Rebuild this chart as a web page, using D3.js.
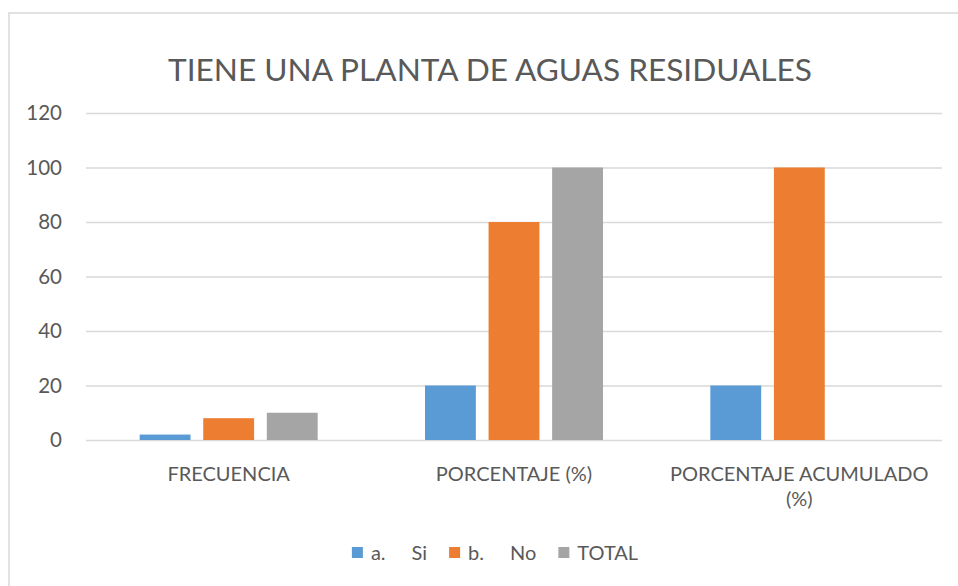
<!DOCTYPE html>
<html><head><meta charset="utf-8">
<script src="https://cdn.jsdelivr.net/npm/d3@7/dist/d3.min.js"></script>
<style>
html,body{margin:0;padding:0;background:#fff;}
svg{display:block;font-family:Lato,"Open Sans",sans-serif;}
</style></head>
<body>
<script>
const title = "TIENE UNA PLANTA DE AGUAS RESIDUALES";
const categories = ["FRECUENCIA", "PORCENTAJE (%)", "PORCENTAJE ACUMULADO (%)"];
const seriesNames = ["a.\tSi", "b.\tNo", "TOTAL"];
const seriesColors = ["#5B9BD5", "#ED7D31", "#A5A5A5"];
const valuesSi = [2, 20, 20];
const valuesNo = [8, 80, 100];
const valuesTotal = [10, 100, null];
const yTicks = [0, 20, 40, 60, 80, 100, 120];

const seriesValues = [valuesSi, valuesNo, valuesTotal];
const W = 958, H = 586;
const textColor = "#595959", gridColor = "#D9D9D9";
const plot = {left: 86, right: 942, top: 113, bottom: 440};

const svg = d3.select("body").append("svg").attr("width", W).attr("height", H);

svg.append("rect").attr("x", 9).attr("y", 13).attr("width", 1000).attr("height", 1000)
  .attr("fill", "#fff").attr("stroke", gridColor).attr("stroke-width", 1.5);

svg.append("text").attr("x", 490).attr("y", 81).attr("text-anchor", "middle")
  .attr("font-size", 31.6).attr("fill", textColor).text(title);

const y = d3.scaleLinear().domain([0, 120]).range([plot.bottom, plot.top]);
const x0 = d3.scaleBand().domain(categories).range([plot.left, plot.right]).padding(0);
const groupW = 178;
const x1 = d3.scaleBand().domain(seriesNames).range([0, groupW]).paddingInner(0.2).paddingOuter(0);

const yAxis = svg.append("g").attr("transform", `translate(${plot.left},0)`)
  .call(d3.axisLeft(y).tickValues(yTicks).tickSize(-(plot.right - plot.left)).tickPadding(24).tickFormat(d3.format("d")));
yAxis.select(".domain").remove();
yAxis.selectAll(".tick line").attr("stroke", gridColor).attr("stroke-width", 1.5);
yAxis.selectAll(".tick text").attr("fill", textColor).attr("font-size", 20.5)
  .attr("font-family", "Lato,'Open Sans',sans-serif");

const groups = svg.append("g").selectAll("g").data(categories).join("g")
  .attr("transform", d => `translate(${x0(d) + (x0.bandwidth() - groupW) / 2},0)`);
groups.selectAll("rect")
  .data((c, ci) => seriesNames.map((s, si) => ({s, si, v: seriesValues[si][ci]})).filter(d => d.v != null))
  .join("rect")
  .attr("x", d => x1(d.s)).attr("width", x1.bandwidth())
  .attr("y", d => y(d.v)).attr("height", d => y(0) - y(d.v))
  .attr("fill", d => seriesColors[d.si]);

// category labels with wrapping
const maxLabelW = x0.bandwidth() - 10;
categories.forEach(c => {
  const t = svg.append("text").attr("x", x0(c) + x0.bandwidth() / 2).attr("y", 481)
    .attr("text-anchor", "middle").attr("font-size", 20).attr("fill", textColor);
  const words = c.split(" ");
  let line = [];
  let ts = t.append("tspan").attr("x", x0(c) + x0.bandwidth() / 2).attr("dy", 0);
  words.forEach(w => {
    line.push(w);
    ts.text(line.join(" "));
    if (ts.node().getComputedTextLength() > maxLabelW && line.length > 1) {
      line.pop(); ts.text(line.join(" "));
      line = [w];
      ts = t.append("tspan").attr("x", x0(c) + x0.bandwidth() / 2).attr("dy", 25).text(w);
    }
  });
});

// legend
const legend = svg.append("g");
const items = [];
seriesNames.forEach((s, i) => {
  const g = legend.append("g");
  g.append("rect").attr("x", 0).attr("y", -6).attr("width", 11).attr("height", 11).attr("fill", seriesColors[i]);
  const parts = s.split("\t");
  const t = g.append("text").attr("x", 19).attr("y", 7).attr("font-size", 20).attr("fill", textColor);
  t.append("tspan").text(parts[0]);
  if (parts[1]) t.append("tspan").attr("dx", 26).text(parts[1]);
  const w = 19 + t.node().getComputedTextLength() + (parts[1] ? 26 : 0);
  items.push({g, w});
});
let total = items.reduce((a, b) => a + b.w, 0) + 22 * (items.length - 1);
let start = 495 - total / 2;
items.forEach(it => { it.g.attr("transform", `translate(${start},553)`); start += it.w + 22; });
</script>
</body></html>
